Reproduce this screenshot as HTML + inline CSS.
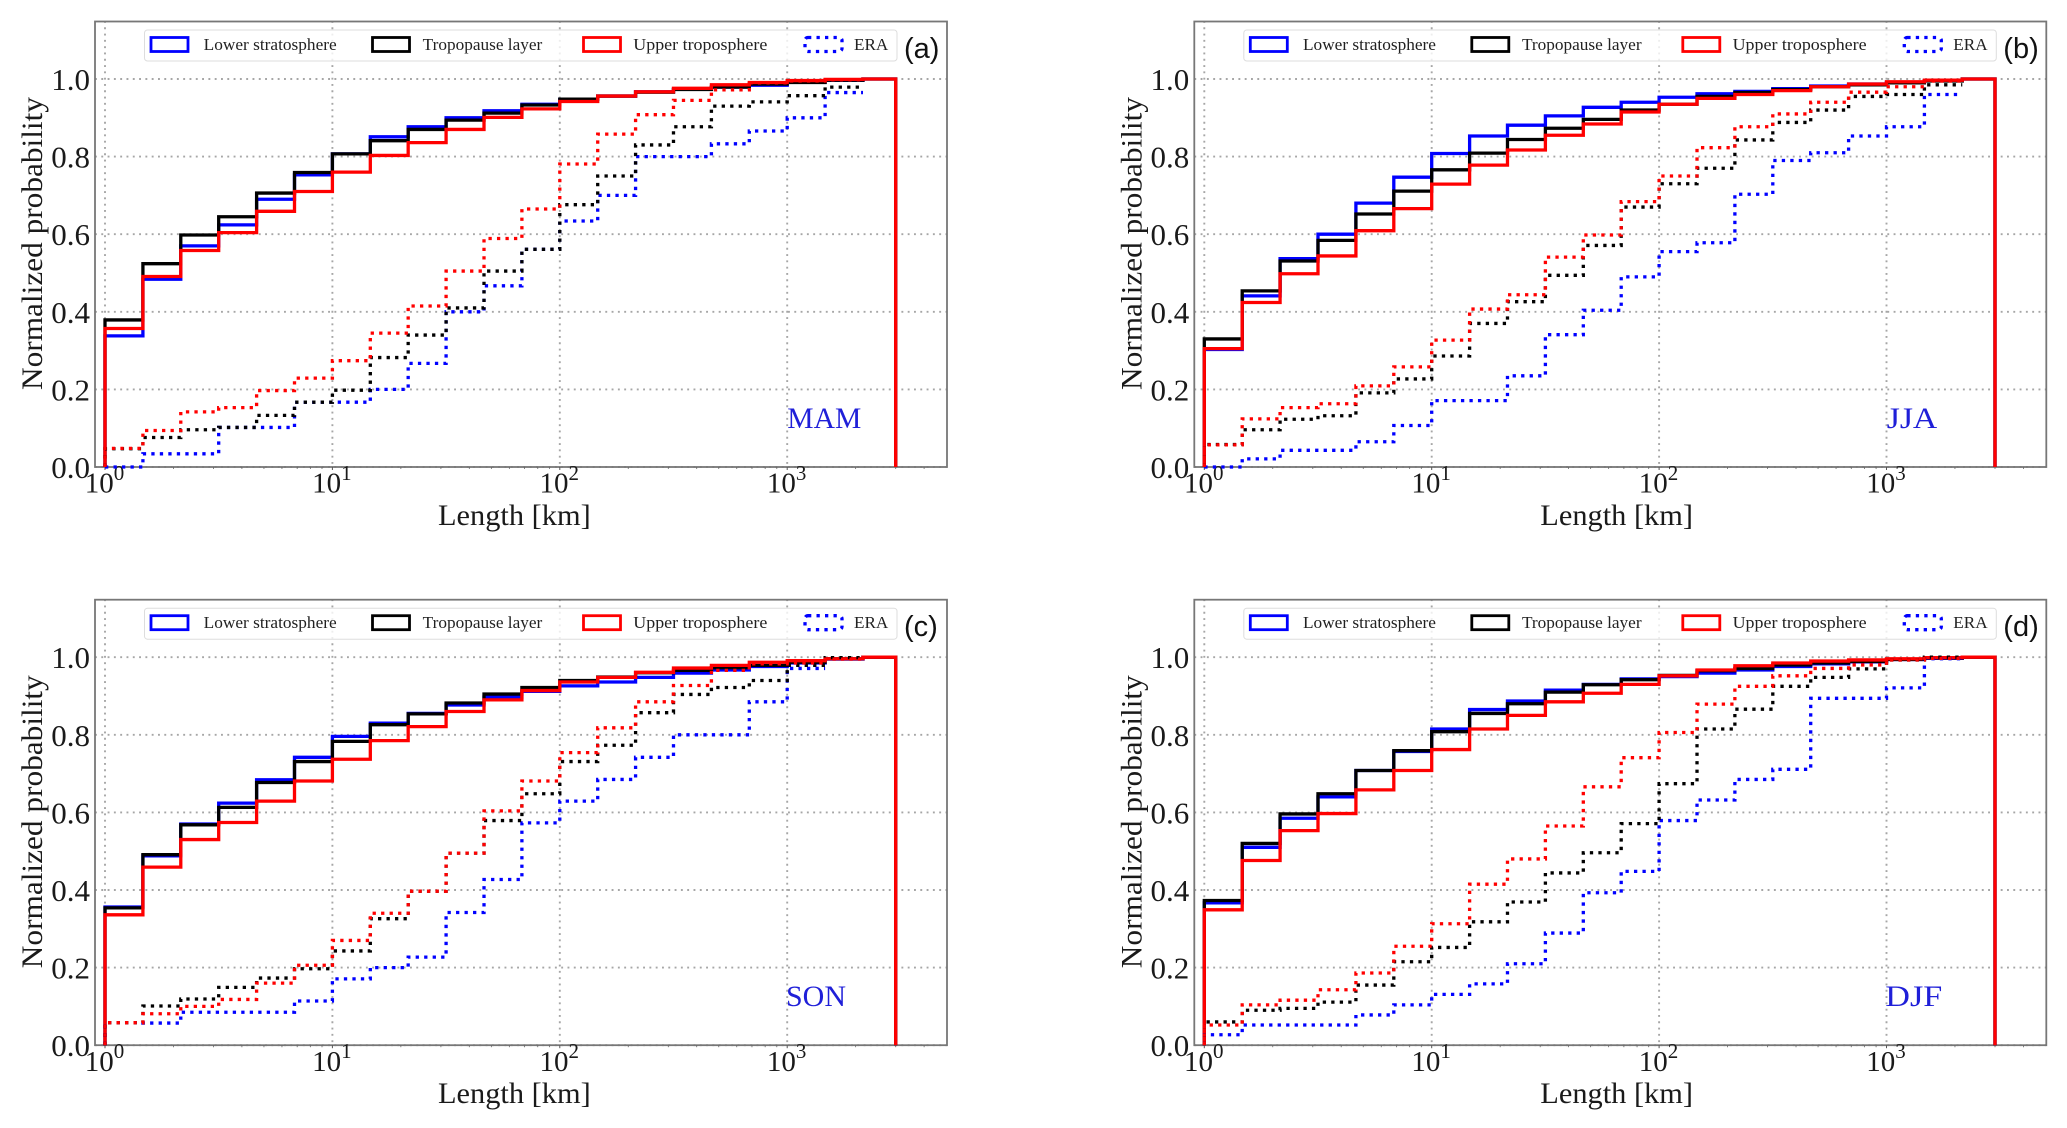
<!DOCTYPE html>
<html lang="en">
<head>
<meta charset="utf-8">
<title>Normalized cumulative probability of length by season</title>
<style>
html,body{margin:0;padding:0;background:#fff;}
svg{display:block;}
text{font-family:"Liberation Serif",serif;fill:#1a1a1a;}
.legend-text{font-size:16.5px;fill:#222;}
.axis-title{font-size:30px;}
.season{font-size:30px;fill:#1f1fd8;}
.panel-letter{font-family:"Liberation Sans",sans-serif;font-size:29px;fill:#111;}
</style>
</head>
<body>
<svg id="figure" width="2067" height="1128" viewBox="0 0 2067 1128" xmlns="http://www.w3.org/2000/svg">
  <rect x="0" y="0" width="2067" height="1128" fill="#fff"/>

  <g id="panel-a" transform="translate(0,0)">
    <g class="grid-layer"></g>
    <rect x="95" y="21.5" width="852" height="445.5" fill="none" stroke="#777" stroke-width="1.8"/>
    <g class="tick-layer"></g>
    <g class="mark-layer"></g>
    <g>
      <rect x="144.5" y="30" width="752.5" height="31" rx="3" fill="#fff" fill-opacity="0.8" stroke="#ddd" stroke-width="1"/>
      <rect x="151" y="37.5" width="37" height="14" fill="none" stroke="#00f" stroke-width="2.8"/>
      <text class="legend-text" x="203.7" y="50" textLength="133" lengthAdjust="spacingAndGlyphs">Lower stratosphere</text>
      <rect x="372.5" y="37.5" width="37" height="14" fill="none" stroke="#000" stroke-width="2.8"/>
      <text class="legend-text" x="422.7" y="50" textLength="119.6" lengthAdjust="spacingAndGlyphs">Tropopause layer</text>
      <rect x="583.5" y="37.5" width="37" height="14" fill="none" stroke="#f00" stroke-width="2.8"/>
      <text class="legend-text" x="633.3" y="50" textLength="134" lengthAdjust="spacingAndGlyphs">Upper troposphere</text>
      <rect x="805" y="37.5" width="37" height="14" rx="3" fill="none" stroke="#00f" stroke-width="3.3" stroke-dasharray="3.3 5.2"/>
      <text class="legend-text" x="854" y="50" textLength="34.3" lengthAdjust="spacingAndGlyphs">ERA</text>
    </g>
    <text class="panel-letter" x="904" y="58">(a)</text>
    <text class="season" x="787.3" y="428" textLength="74" lengthAdjust="spacingAndGlyphs">MAM</text>
    <text class="axis-title" x="438" y="525" textLength="152.7" lengthAdjust="spacingAndGlyphs">Length [km]</text>
    <text class="axis-title" transform="translate(42,390) rotate(-90)" x="0" y="0" textLength="293" lengthAdjust="spacingAndGlyphs">Normalized probability</text>
  </g>

  <g id="panel-b" transform="translate(1099.3,0)">
    <g class="grid-layer"></g>
    <rect x="95" y="21.5" width="852" height="445.5" fill="none" stroke="#777" stroke-width="1.8"/>
    <g class="tick-layer"></g>
    <g class="mark-layer"></g>
    <g>
      <rect x="144.5" y="30" width="752.5" height="31" rx="3" fill="#fff" fill-opacity="0.8" stroke="#ddd" stroke-width="1"/>
      <rect x="151" y="37.5" width="37" height="14" fill="none" stroke="#00f" stroke-width="2.8"/>
      <text class="legend-text" x="203.7" y="50" textLength="133" lengthAdjust="spacingAndGlyphs">Lower stratosphere</text>
      <rect x="372.5" y="37.5" width="37" height="14" fill="none" stroke="#000" stroke-width="2.8"/>
      <text class="legend-text" x="422.7" y="50" textLength="119.6" lengthAdjust="spacingAndGlyphs">Tropopause layer</text>
      <rect x="583.5" y="37.5" width="37" height="14" fill="none" stroke="#f00" stroke-width="2.8"/>
      <text class="legend-text" x="633.3" y="50" textLength="134" lengthAdjust="spacingAndGlyphs">Upper troposphere</text>
      <rect x="805" y="37.5" width="37" height="14" rx="3" fill="none" stroke="#00f" stroke-width="3.3" stroke-dasharray="3.3 5.2"/>
      <text class="legend-text" x="854" y="50" textLength="34.3" lengthAdjust="spacingAndGlyphs">ERA</text>
    </g>
    <text class="panel-letter" x="904" y="58">(b)</text>
    <text class="season" x="787.4" y="428" textLength="50.6" lengthAdjust="spacingAndGlyphs">JJA</text>
    <text class="axis-title" x="441" y="525" textLength="152.7" lengthAdjust="spacingAndGlyphs">Length [km]</text>
    <text class="axis-title" transform="translate(42,390) rotate(-90)" x="0" y="0" textLength="293" lengthAdjust="spacingAndGlyphs">Normalized probability</text>
  </g>

  <g id="panel-c" transform="translate(0,578.2)">
    <g class="grid-layer"></g>
    <rect x="95" y="21.5" width="852" height="445.5" fill="none" stroke="#777" stroke-width="1.8"/>
    <g class="tick-layer"></g>
    <g class="mark-layer"></g>
    <g>
      <rect x="144.5" y="30" width="752.5" height="31" rx="3" fill="#fff" fill-opacity="0.8" stroke="#ddd" stroke-width="1"/>
      <rect x="151" y="37.5" width="37" height="14" fill="none" stroke="#00f" stroke-width="2.8"/>
      <text class="legend-text" x="203.7" y="50" textLength="133" lengthAdjust="spacingAndGlyphs">Lower stratosphere</text>
      <rect x="372.5" y="37.5" width="37" height="14" fill="none" stroke="#000" stroke-width="2.8"/>
      <text class="legend-text" x="422.7" y="50" textLength="119.6" lengthAdjust="spacingAndGlyphs">Tropopause layer</text>
      <rect x="583.5" y="37.5" width="37" height="14" fill="none" stroke="#f00" stroke-width="2.8"/>
      <text class="legend-text" x="633.3" y="50" textLength="134" lengthAdjust="spacingAndGlyphs">Upper troposphere</text>
      <rect x="805" y="37.5" width="37" height="14" rx="3" fill="none" stroke="#00f" stroke-width="3.3" stroke-dasharray="3.3 5.2"/>
      <text class="legend-text" x="854" y="50" textLength="34.3" lengthAdjust="spacingAndGlyphs">ERA</text>
    </g>
    <text class="panel-letter" x="904" y="58">(c)</text>
    <text class="season" x="786" y="428" textLength="60" lengthAdjust="spacingAndGlyphs">SON</text>
    <text class="axis-title" x="438" y="525" textLength="152.7" lengthAdjust="spacingAndGlyphs">Length [km]</text>
    <text class="axis-title" transform="translate(42,390) rotate(-90)" x="0" y="0" textLength="293" lengthAdjust="spacingAndGlyphs">Normalized probability</text>
  </g>

  <g id="panel-d" transform="translate(1099.3,578.2)">
    <g class="grid-layer"></g>
    <rect x="95" y="21.5" width="852" height="445.5" fill="none" stroke="#777" stroke-width="1.8"/>
    <g class="tick-layer"></g>
    <g class="mark-layer"></g>
    <g>
      <rect x="144.5" y="30" width="752.5" height="31" rx="3" fill="#fff" fill-opacity="0.8" stroke="#ddd" stroke-width="1"/>
      <rect x="151" y="37.5" width="37" height="14" fill="none" stroke="#00f" stroke-width="2.8"/>
      <text class="legend-text" x="203.7" y="50" textLength="133" lengthAdjust="spacingAndGlyphs">Lower stratosphere</text>
      <rect x="372.5" y="37.5" width="37" height="14" fill="none" stroke="#000" stroke-width="2.8"/>
      <text class="legend-text" x="422.7" y="50" textLength="119.6" lengthAdjust="spacingAndGlyphs">Tropopause layer</text>
      <rect x="583.5" y="37.5" width="37" height="14" fill="none" stroke="#f00" stroke-width="2.8"/>
      <text class="legend-text" x="633.3" y="50" textLength="134" lengthAdjust="spacingAndGlyphs">Upper troposphere</text>
      <rect x="805" y="37.5" width="37" height="14" rx="3" fill="none" stroke="#00f" stroke-width="3.3" stroke-dasharray="3.3 5.2"/>
      <text class="legend-text" x="854" y="50" textLength="34.3" lengthAdjust="spacingAndGlyphs">ERA</text>
    </g>
    <text class="panel-letter" x="904" y="58">(d)</text>
    <text class="season" x="786" y="428" textLength="57" lengthAdjust="spacingAndGlyphs">DJF</text>
    <text class="axis-title" x="441" y="525" textLength="152.7" lengthAdjust="spacingAndGlyphs">Length [km]</text>
    <text class="axis-title" transform="translate(42,390) rotate(-90)" x="0" y="0" textLength="293" lengthAdjust="spacingAndGlyphs">Normalized probability</text>
  </g>
</svg>

<script>
// Histogram bin edges in km
const binEdges = [1,1.468,2.154,3.162,4.642,6.813,10,14.68,21.54,31.62,46.42,68.13,100,146.8,215.4,316.2,464.2,681.3,1000,1468,2154,3000];

// Axis ticks
const xTickValues = [1,10,100,1000];
const xTickBases = ['10','10','10','10'];
const xTickExponents = ['0','1','2','3'];
const xMinorValues = [2,3,4,5,6,7,8,9,20,30,40,50,60,70,80,90,200,300,400,500,600,700,800,900,2000,3000,4000];
const yTickValues = [0,0.2,0.4,0.6,0.8,1];
const yTickLabels = ['0.0','0.2','0.4','0.6','0.8','1.0'];

// (a) MAM
const lowerA = [0.338,0.484,0.570,0.624,0.690,0.753,0.807,0.851,0.877,0.900,0.918,0.935,0.948,0.956,0.967,0.974,0.979,0.984,0.992,0.997,1];
const tropA  = [0.379,0.524,0.598,0.645,0.706,0.759,0.807,0.841,0.870,0.894,0.912,0.933,0.948,0.956,0.966,0.973,0.979,0.987,0.991,0.997,1];
const upperA = [0.357,0.491,0.558,0.604,0.659,0.710,0.760,0.803,0.836,0.870,0.901,0.923,0.942,0.956,0.967,0.976,0.985,0.991,0.996,0.999,1];
const eraLowerA = [0.000,0.034,0.034,0.102,0.102,0.167,0.167,0.200,0.267,0.400,0.467,0.561,0.634,0.700,0.800,0.800,0.833,0.866,0.900,0.965];
const eraTropA  = [0.047,0.076,0.096,0.102,0.133,0.167,0.198,0.282,0.340,0.410,0.505,0.561,0.676,0.750,0.830,0.877,0.930,0.941,0.957,0.979];
const eraUpperA = [0.048,0.094,0.142,0.153,0.197,0.229,0.274,0.345,0.415,0.505,0.589,0.665,0.781,0.858,0.908,0.945,0.972,0.990,0.995,0.998];

// (b) JJA
const lowerB = [0.303,0.441,0.537,0.600,0.680,0.747,0.808,0.853,0.881,0.905,0.927,0.940,0.953,0.962,0.968,0.975,0.982,0.987,0.992,0.996,1];
const tropB  = [0.330,0.454,0.531,0.584,0.652,0.711,0.766,0.809,0.844,0.873,0.896,0.920,0.935,0.955,0.965,0.973,0.980,0.985,0.990,0.995,1];
const upperB = [0.305,0.424,0.498,0.544,0.609,0.666,0.729,0.778,0.817,0.855,0.884,0.915,0.935,0.950,0.960,0.970,0.980,0.987,0.993,0.997,1];
const eraLowerB = [0.000,0.021,0.043,0.043,0.065,0.107,0.171,0.171,0.235,0.341,0.404,0.490,0.555,0.578,0.703,0.790,0.810,0.853,0.877,0.960];
const eraTropB  = [0.058,0.096,0.123,0.132,0.191,0.227,0.286,0.370,0.426,0.494,0.571,0.670,0.730,0.770,0.843,0.888,0.920,0.955,0.960,0.985];
const eraUpperB = [0.057,0.124,0.153,0.163,0.209,0.258,0.327,0.407,0.444,0.541,0.598,0.684,0.750,0.823,0.877,0.910,0.940,0.966,0.980,0.995];

// (c) SON
const lowerC = [0.356,0.488,0.570,0.624,0.684,0.742,0.796,0.830,0.855,0.877,0.897,0.912,0.926,0.936,0.948,0.959,0.967,0.976,0.985,0.995,1];
const tropC  = [0.354,0.491,0.568,0.613,0.677,0.731,0.783,0.826,0.854,0.882,0.905,0.922,0.940,0.949,0.960,0.966,0.973,0.979,0.987,0.996,1];
const upperC = [0.336,0.459,0.530,0.574,0.629,0.681,0.737,0.785,0.821,0.860,0.890,0.914,0.936,0.948,0.961,0.972,0.979,0.987,0.991,0.996,1];
const eraLowerC = [0.058,0.057,0.085,0.085,0.085,0.114,0.171,0.200,0.227,0.342,0.427,0.573,0.629,0.685,0.742,0.800,0.800,0.885,0.971];
const eraTropC  = [0.058,0.101,0.119,0.149,0.173,0.197,0.243,0.326,0.397,0.495,0.579,0.648,0.731,0.773,0.857,0.904,0.922,0.940,0.979,0.999];
const eraUpperC = [0.058,0.081,0.100,0.118,0.160,0.206,0.270,0.340,0.397,0.495,0.604,0.681,0.754,0.818,0.885,0.927,0.966,0.983,0.985,0.995];

// (d) DJF
const lowerD = [0.367,0.510,0.585,0.640,0.708,0.757,0.815,0.865,0.887,0.915,0.930,0.944,0.950,0.959,0.967,0.976,0.983,0.988,0.994,0.997,1];
const tropD  = [0.373,0.520,0.596,0.648,0.708,0.759,0.808,0.855,0.880,0.910,0.929,0.942,0.953,0.965,0.971,0.980,0.985,0.989,0.994,0.998,1];
const upperD = [0.349,0.476,0.553,0.597,0.658,0.708,0.762,0.815,0.850,0.885,0.907,0.930,0.952,0.967,0.978,0.985,0.990,0.993,0.996,0.999,1];
const eraLowerD = [0.027,0.052,0.052,0.052,0.078,0.104,0.131,0.158,0.210,0.289,0.393,0.448,0.579,0.632,0.685,0.711,0.894,0.894,0.921,0.996];
const eraTropD  = [0.060,0.090,0.095,0.111,0.155,0.215,0.252,0.318,0.369,0.444,0.496,0.571,0.674,0.815,0.866,0.925,0.948,0.970,0.993,1.000];
const eraUpperD = [0.052,0.104,0.116,0.143,0.186,0.255,0.313,0.415,0.480,0.565,0.666,0.741,0.806,0.879,0.925,0.952,0.971,0.980,0.993,0.997];

const SVG_NS = 'http://www.w3.org/2000/svg';
const xScale = function (km) { return 105 + Math.log10(km) * 227.4; };
const yScale = function (p) { return 467 - p * 388; };

function stepPath(values, closeAtEnd) {
  let d = 'M' + xScale(binEdges[0]) + ' ' + yScale(0);
  values.forEach(function (v, i) {
    d += ' V' + yScale(v) + ' H' + xScale(binEdges[i + 1]);
  });
  if (closeAtEnd) { d += ' V' + yScale(0); }
  return d;
}

function drawSeries(layer, values, color, dotted, seriesName) {
  const path = document.createElementNS(SVG_NS, 'path');
  
  
  path.setAttribute('d', stepPath(values, !dotted));
  path.setAttribute('fill', 'none');
  path.setAttribute('stroke', color);
  path.setAttribute('stroke-linejoin', 'miter');
  if (dotted) {
    path.setAttribute('stroke-width', '3.3');
    path.setAttribute('stroke-dasharray', '3.3 5.2');
  } else {
    path.setAttribute('stroke-width', '3.3');
  }
  layer.appendChild(path);
}

function drawAxes(panel) {
  const grid = panel.querySelector('.grid-layer');
  const ticks = panel.querySelector('.tick-layer');

  xTickValues.forEach(function (v, i) {
    const line = document.createElementNS(SVG_NS, 'line');
    
    
    line.setAttribute('x1', xScale(v));
    line.setAttribute('x2', xScale(v));
    line.setAttribute('y1', 21);
    line.setAttribute('y2', 467);
    line.setAttribute('stroke', '#a6a6a6');
    line.setAttribute('stroke-width', '1.9');
    line.setAttribute('stroke-dasharray', '1.9 4.4');
    grid.appendChild(line);

    const mark = document.createElementNS(SVG_NS, 'line');
    
    
    mark.setAttribute('x1', xScale(v));
    mark.setAttribute('x2', xScale(v));
    mark.setAttribute('y1', 467);
    mark.setAttribute('y2', 470);
    mark.setAttribute('stroke', '#555');
    mark.setAttribute('stroke-width', '1');
    ticks.appendChild(mark);

    const label = document.createElementNS(SVG_NS, 'text');
    
    
    label.setAttribute('x', xScale(v) - 20.3);
    label.setAttribute('y', 492.7);
    label.setAttribute('font-size', '29');
    label.textContent = xTickBases[i];
    const sup = document.createElementNS(SVG_NS, 'tspan');
    
    
    sup.setAttribute('font-size', '21');
    sup.setAttribute('dy', '-12.7');
    sup.textContent = xTickExponents[i];
    label.appendChild(sup);
    ticks.appendChild(label);
  });

  xMinorValues.forEach(function (v) {
    const mark = document.createElementNS(SVG_NS, 'line');
    
    
    mark.setAttribute('x1', xScale(v));
    mark.setAttribute('x2', xScale(v));
    mark.setAttribute('y1', 467);
    mark.setAttribute('y2', 469);
    mark.setAttribute('stroke', '#666');
    mark.setAttribute('stroke-width', '0.8');
    ticks.appendChild(mark);
  });

  yTickValues.forEach(function (v, i) {
    const line = document.createElementNS(SVG_NS, 'line');
    
    
    line.setAttribute('x1', 95);
    line.setAttribute('x2', 947);
    line.setAttribute('y1', yScale(v));
    line.setAttribute('y2', yScale(v));
    line.setAttribute('stroke', '#a6a6a6');
    line.setAttribute('stroke-width', '1.9');
    line.setAttribute('stroke-dasharray', '1.9 4.4');
    grid.appendChild(line);

    const label = document.createElementNS(SVG_NS, 'text');
    
    
    label.setAttribute('x', 90);
    label.setAttribute('y', yScale(v) + 11);
    label.setAttribute('font-size', '31');
    label.setAttribute('text-anchor', 'end');
    label.textContent = yTickLabels[i];
    ticks.appendChild(label);
  });
}

function drawPanel(id, lower, trop, upper, eraLower, eraTrop, eraUpper) {
  const panel = document.getElementById(id);
  drawAxes(panel);
  const layer = panel.querySelector('.mark-layer');
  drawSeries(layer, lower, '#0000ff', false, 'lower-stratosphere-line');
  drawSeries(layer, trop, '#000000', false, 'tropopause-layer-line');
  drawSeries(layer, upper, '#ff0000', false, 'upper-troposphere-line');
  drawSeries(layer, eraLower, '#0000ff', true, 'era-lower-stratosphere-line');
  drawSeries(layer, eraTrop, '#000000', true, 'era-tropopause-layer-line');
  drawSeries(layer, eraUpper, '#ff0000', true, 'era-upper-troposphere-line');
}

drawPanel('panel-a', lowerA, tropA, upperA, eraLowerA, eraTropA, eraUpperA);
drawPanel('panel-b', lowerB, tropB, upperB, eraLowerB, eraTropB, eraUpperB);
drawPanel('panel-c', lowerC, tropC, upperC, eraLowerC, eraTropC, eraUpperC);
drawPanel('panel-d', lowerD, tropD, upperD, eraLowerD, eraTropD, eraUpperD);
</script>
</body>
</html>
